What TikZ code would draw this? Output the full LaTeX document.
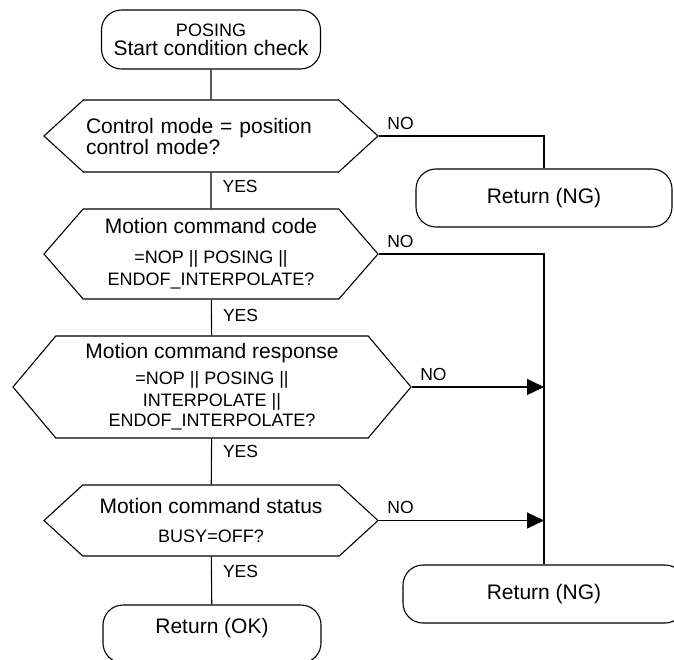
\documentclass[tikz,border=0pt]{standalone}
\usepackage{fontspec}
\setmainfont{Liberation Sans}
\usetikzlibrary{shapes.symbols,arrows.meta}
\newcommand{\subline}{\fontsize{18}{22}\selectfont}

\begin{document}
\begin{tikzpicture}[
	x=1pt, y=-1pt, line width=1.1pt,
	terminal/.style={ draw, rectangle, rounded corners=20pt, minimum height=58pt, inner sep=0pt, align=center, font=\fontsize{21}{22}\selectfont },
	decision/.style={ draw, signal, signal to=west and east, inner sep=0pt, align=center, font=\fontsize{21}{22}\selectfont },
	lbl/.style={ inner sep=0pt, font=\fontsize{17.5}{20}\selectfont },
	yeslbl/.style={ lbl, anchor=west, xshift=11pt },
	nolbl/.style={ lbl, pos=0, anchor=south west, xshift=8pt, yshift=6pt },
	arrow/.style={ -{Triangle[length=17pt,width=16pt]} }
]
\useasboundingbox (0,0) rectangle (674,660);

\node at (211,39.5) (start) [terminal, minimum width=219pt, minimum height=59pt] {{\subline POSING}\\[-3pt]Start condition check};
\node at (211,136) (d1) [decision, minimum width=334pt, minimum height=72pt, signal pointer angle=85, text width=250pt, align=left] {Control mode = position\\[-1pt]control mode?};
\node at (211,254) (d2) [decision, minimum width=334pt, minimum height=90pt, signal pointer angle=98] {Motion command code\\[8pt]{\subline =NOP || POSING ||}\\{\subline ENDOF\_INTERPOLATE?}};
\node at (212,387) (d3) [decision, minimum width=398pt, minimum height=102pt, signal pointer angle=100] {Motion command response\\[4pt]{\subline =NOP || POSING ||}\\{\subline INTERPOLATE ||}\\[-2pt]{\subline ENDOF\_INTERPOLATE?}};
\node at (211,520.5) (d4) [decision, minimum width=334pt, minimum height=71pt, signal pointer angle=85] {Motion command status\\[7pt]{\subline BUSY=OFF?}};
\node at (212,634) (ok) [terminal, minimum width=218pt, text depth=16pt] {Return (OK)};
\node at (544,198) (ng1) [terminal, minimum width=256pt] {Return (NG)};
\node at (544,594) (ng2) [terminal, minimum width=282pt] {Return (NG)};

\draw (start) -- (d1);
\draw (d1) -- node[yeslbl, pos=0.4] {YES} (d2);
\draw (d2) -- node[yeslbl, pos=0.45] {YES} (d3);
\draw (d3) -- node[yeslbl, pos=0.29] {YES} (d4);
\draw (d4) -- node[yeslbl, pos=0.32] {YES} (ok);
\draw (d1.east) -| node[nolbl] {NO} (ng1.north);
\draw (d2.east) -| node[nolbl] {NO} (ng2.north);
\draw[arrow] (d3.east) -- node[nolbl] {NO} (d3.east -| ng2.north);
\draw[arrow] (d4.east) -- node[nolbl] {NO} (d4.east -| ng2.north);

\end{tikzpicture}
\end{document}
